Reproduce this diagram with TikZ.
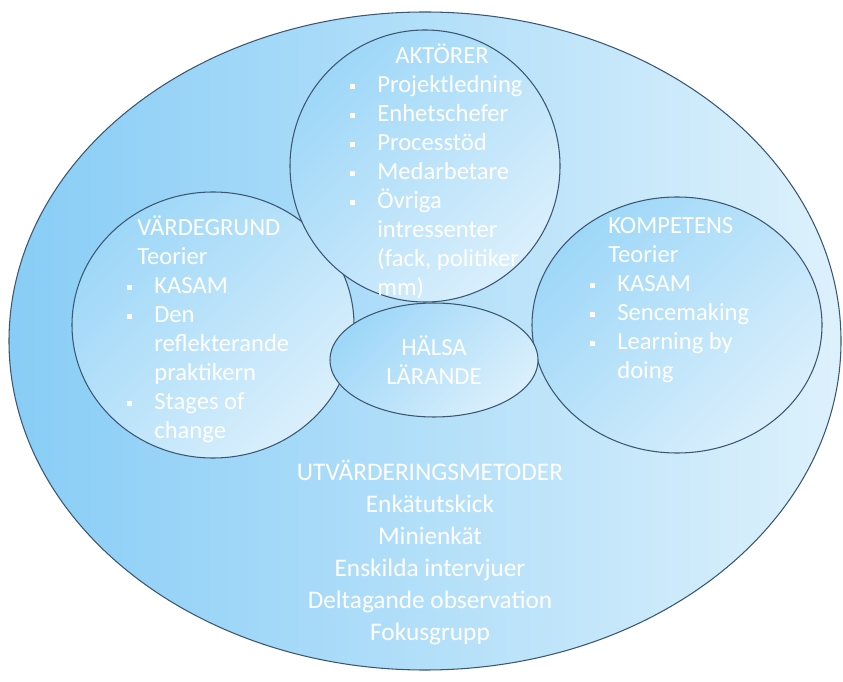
\documentclass[tikz,border=0pt]{standalone}
\usepackage{fontspec}
\setmainfont{Carlito}
\usetikzlibrary{shapes.geometric, positioning}

\definecolor{ringblue}{HTML}{88CDF6}
\definecolor{ringpale}{HTML}{DDF1FC}
\definecolor{circblue}{HTML}{9ED7F8}
\definecolor{circpale}{HTML}{DAEFFC}
\definecolor{edgeblue}{HTML}{3A5670}

% punkt och indrag i listorna
\newcommand{\bl}{\makebox[0.54cm][l]{\rule[2pt]{0.1cm}{0.1cm}}}
\newcommand{\ind}{\hspace*{0.54cm}}

\begin{document}
\begin{tikzpicture}[
        outer/.style={ellipse, draw=edgeblue, line width=0.6pt, inner sep=0pt, left color=ringblue, right color=ringpale},
        circ/.style={ellipse, draw=edgeblue, line width=0.6pt, inner sep=0pt, top color=circblue, bottom color=circpale, shading angle=45},
        txt/.style={text=white, align=left, inner sep=0pt, anchor=north west, font=\fontsize{14}{16.5}\selectfont}
    ]
        \useasboundingbox (0,0) rectangle (16.86,13.62);

        % Ellipserna
        \node (yttre) [outer, minimum width=16.64cm, minimum height=13.16cm] at (8.50,6.80) {};
        \node (vardegrund) [circ, minimum width=5.64cm, minimum height=5.32cm] at (4.26,7.12) {};
        \node (kompetens) [circ, minimum width=5.80cm, minimum height=5.12cm] at (13.54,7.12) {};
        \node (aktorer) [circ, minimum width=5.40cm, minimum height=5.44cm] at (8.50,10.30) {};
        \node (halsa) [circ, minimum width=4.16cm, minimum height=2.28cm, text=white, align=center, font=\fontsize{14}{16.5}\selectfont] at (8.68,6.42) {HÄLSA\\LÄRANDE};

        % Texterna
        \node (aktorertext) [txt] at (7.00,12.76) {\hspace*{0.9cm}AKTÖRER\\ \bl Projektledning\\ \bl Enhetschefer\\ \bl Processtöd\\ \bl Medarbetare\\ \bl Övriga\\ \ind intressenter\\ \ind (fack, politiker\\ \ind mm)};
        \node (vardetext) [txt] at (2.54,9.32) {\hspace*{0.2cm}VÄRDEGRUND\\ \hspace*{0.2cm}Teorier\\ \bl KASAM\\ \bl Den\\ \ind reflekterande\\ \ind praktikern\\ \bl Stages of\\ \ind change};
        \node (kompetenstext) [txt] at (11.80,9.28) {\hspace*{0.36cm}KOMPETENS\\ \hspace*{0.36cm}Teorier\\ \bl KASAM\\ \bl Sencemaking\\ \bl Learning by\\ \ind doing};
        \node (metoder) [txt, align=center, anchor=north, font=\fontsize{14.4}{18.2}\selectfont] at (8.60,4.42) {UTVÄRDERINGSMETODER\\ Enkätutskick\\ Minienkät\\ Enskilda intervjuer\\ Deltagande observation\\ Fokusgrupp};
    \end{tikzpicture}
\end{document}
